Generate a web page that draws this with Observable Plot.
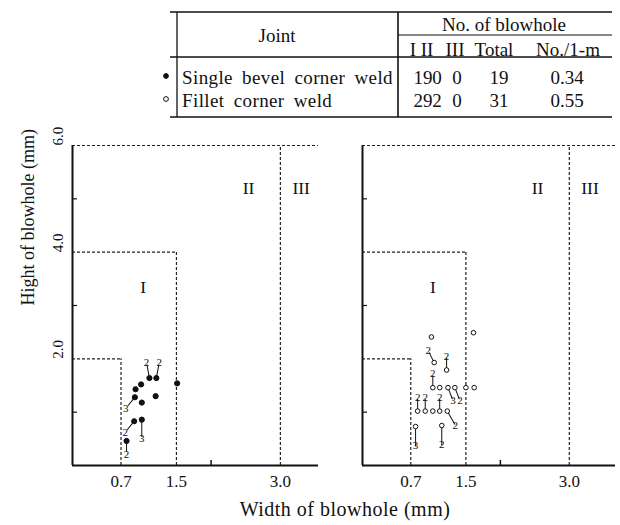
<!DOCTYPE html>
<html><head><meta charset="utf-8">
<script src="https://cdn.jsdelivr.net/npm/d3@7"></script>
<script src="https://cdn.jsdelivr.net/npm/@observablehq/plot@0.6"></script>
<style>
body{margin:0;background:#fff;}
#root{position:relative;width:620px;height:525px;font-family:"Liberation Serif",serif;color:#111;overflow:hidden;}
#root svg{position:absolute;overflow:visible;}
#xtitle{position:absolute;left:0;width:690px;top:498px;text-align:center;font-size:20px;letter-spacing:0.5px;}
</style></head><body><div id="root"><div id="xtitle">Width of blowhole (mm)</div></div>
<script>
// ---------- table data ----------
const jointNames = ["Single bevel corner weld", "Fillet corner weld"];
const jointMarker = ["filled", "open"];
const tableTitle = "No. of blowhole";
const subHeads = ["I", "II", "III", "Total", "No./1-m"];
const countI = [19, 29];
const countII = [0, 2];
const countIII = [0, 0];
const countTotal = [19, 31];
const perMeter = ["0.34", "0.55"];

// ---------- chart scaffolding ----------
const regionNames = ["I", "II", "III"];
const widthLimits = [0.7, 1.5, 3.0];
const heightLimits = [2.0, 4.0, 6.0];
const xTickValues = [0.7, 1.5, 3.0];
const yTickValues = [2.0, 4.0, 6.0];
const xMinorTicks = [2.0];
const yMinorTicks = [1.0, 3.0, 5.0];
const regionLabelW = [1.02, 2.54, 3.3];
const regionLabelH = [3.34, 5.2, 5.2];

// ---------- single bevel corner weld (filled) ----------
const bevelW = [0.78, 0.89, 1.00, 0.90, 1.00, 0.91, 0.99, 1.11, 1.21, 1.20, 1.51];
const bevelH = [0.46, 0.83, 0.86, 1.28, 1.18, 1.43, 1.52, 1.64, 1.64, 1.30, 1.54];
const bevelN = [2, 2, 3, 3, 1, 1, 1, 2, 2, 1, 1];
const bevelSide = ["S", "SW", "SS", "SW", null, null, null, "NNW", "NNE", null, null];

// ---------- fillet corner weld (open) ----------
const filletW = [1.00, 1.04, 1.22, 1.61, 1.02, 1.12, 1.24, 1.34, 1.50, 1.62, 0.80, 0.91, 1.02, 1.12, 1.23, 0.77, 1.15];
const filletH = [2.41, 1.93, 1.79, 2.49, 1.46, 1.46, 1.46, 1.46, 1.46, 1.46, 1.02, 1.02, 1.02, 1.02, 1.02, 0.73, 0.75];
const filletN = [1, 2, 2, 1, 2, 1, 3, 2, 1, 1, 2, 2, 1, 2, 2, 3, 2];
const filletSide = [null, "NW", "N", null, "N", null, "SE", "SE", null, null, "N", "N", null, "N", "SSE", "SS", "SS"];

// label offset directions (pixels)
const sideOffset = {
  N: [0, -14], NNW: [-3, -16], NNE: [3, -16], NW: [-6, -12],
  S: [0, 14], SS: [0, 19], SW: [-9, 11], SE: [5, 13], SSE: [8, 14]
};

const root = document.getElementById("root");
const FONT = "Liberation Serif";
const INK = "#111";

// ---------- table ----------
(function drawTable() {
  const svg = d3.select(root).append("svg")
    .attr("width", 620).attr("height", 125)
    .style("left", "0px").style("top", "0px")
    .attr("font-family", FONT).attr("fill", INK);
  const L = 170, R = 612, mid = 398, top = 12, hdr = 57, bot = 117;
  const line = (x1, y1, x2, y2, w = 1.3) => svg.append("line")
    .attr("x1", x1).attr("y1", y1).attr("x2", x2).attr("y2", y2)
    .attr("stroke", INK).attr("stroke-width", w);
  line(L, top, R, top);
  line(L, hdr, R, hdr);
  line(mid, 35, R, 35, 1);
  line(L, bot, R, bot);
  line(177, top, 177, bot);
  line(mid, top, mid, bot, 1.6);
  const txt = (s, x, y, anchor = "middle", size = 19) => svg.append("text")
    .attr("x", x).attr("y", y).attr("text-anchor", anchor)
    .attr("dominant-baseline", "central").attr("font-size", size).text(s);
  txt("Joint", 277, 35);
  txt(tableTitle, 504, 24);
  const headX = [413, 427, 455, 494, 568];
  subHeads.forEach((s, i) => txt(s, headX[i], 49));
  const rowY = [77, 100];
  const colX = [423, 437, 457, 499, 567];
  jointNames.forEach((name, i) => {
    txt(name, 182, rowY[i], "start").attr("letter-spacing", 0.4).attr("word-spacing", 4);
    [countI[i], countII[i], countIII[i], countTotal[i], perMeter[i]].forEach((v, j) => txt(String(v), colX[j], rowY[i]));
    svg.append("circle").attr("cx", 166).attr("cy", rowY[i] - 1).attr("r", 2.4)
      .attr("fill", jointMarker[i] === "filled" ? INK : "#fff")
      .attr("stroke", INK).attr("stroke-width", 1);
  });
})();

// ---------- panels ----------
const leader = {
  draw(ctx, l) { ctx.moveTo(0, -2.4); ctx.lineTo(0, -l); }
};

function panel({W, H, N, side, filled, xMax, width, marginLeft, marginRight, left, yLabels}) {
  const height = 375, marginTop = 20, marginBottom = 35;
  const frameW = width - marginLeft - marginRight;
  const frameH = height - marginTop - marginBottom;
  const pts = W.map((w, i) => ({w, h: H[i], n: N[i], side: side[i]}));
  const labeled = pts.filter(d => d.side).map(d => {
    const [dx, dy] = sideOffset[d.side];
    return {...d, len: Math.hypot(dx, dy) - 6, ang: Math.atan2(dx, -dy) * 180 / Math.PI};
  });
  const boxes = widthLimits.map((w, i) => ({w, h: heightLimits[i], xEnd: i === widthLimits.length - 1 ? xMax : w}));
  const dash = {stroke: "#222", strokeWidth: 1.2, strokeDasharray: "3,2"};
  const marks = [
    Plot.ruleY(boxes, {y: "h", x1: () => 0, x2: "xEnd", ...dash}),
    Plot.ruleX(boxes, {x: "w", y1: () => 0, y2: "h", ...dash}),
    Plot.ruleX([0], {y1: 0, y2: heightLimits[heightLimits.length - 1], stroke: INK, strokeWidth: 2}),
    Plot.ruleY([0], {stroke: INK, strokeWidth: 2}),
    Plot.tickY(yMinorTicks, {y: d => d, insetRight: frameW - 5, stroke: INK, strokeWidth: 1.2}),
    Plot.tickX(xMinorTicks, {x: d => d, insetTop: frameH - 5, stroke: INK, strokeWidth: 1.5}),
    Plot.text(xTickValues, {x: d => d, frameAnchor: "bottom", dy: 21, text: d => d.toFixed(1), fontSize: 17, fill: INK}),
    Plot.text(regionNames, {x: (d, i) => regionLabelW[i], y: (d, i) => regionLabelH[i], text: d => d, fontSize: 17.5, fill: INK}),
    Plot.vector(labeled, {x: "w", y: "h", length: "len", rotate: "ang", anchor: "start", shape: leader, stroke: INK, strokeWidth: 1})
  ];
  for (const key of Object.keys(sideOffset)) {
    const sub = labeled.filter(d => d.side === key);
    if (!sub.length) continue;
    marks.push(Plot.text(sub, {x: "w", y: "h", text: d => String(d.n), dx: sideOffset[key][0], dy: sideOffset[key][1], fontSize: 11, fill: INK}));
  }
  marks.push(Plot.dot(pts, {x: "w", y: "h", r: filled ? 2.6 : 2.3, fill: filled ? INK : "#fff", stroke: INK, strokeWidth: 1}));
  if (yLabels) {
    marks.push(Plot.text(yTickValues, {y: d => d, frameAnchor: "left", dx: -14, rotate: -90, text: d => d.toFixed(1), fontSize: 15, fill: INK}));
    marks.push(Plot.text(["Hight of blowhole (mm)"], {frameAnchor: "left", dx: -44, rotate: -90, text: d => d, fontSize: 18, fill: INK}));
  }
  const chart = Plot.plot({
    width, height, marginLeft, marginRight, marginTop, marginBottom,
    x: {domain: [0, xMax], axis: null},
    y: {domain: [0, heightLimits[heightLimits.length - 1]], axis: null},
    style: {fontFamily: FONT, background: "transparent", color: INK, overflow: "visible"},
    marks
  });
  chart.style.left = left + "px";
  chart.style.top = "125px";
  root.appendChild(chart);
}

panel({W: bevelW, H: bevelH, N: bevelN, side: bevelSide, filled: true, xMax: 3.55,
  width: 330, marginLeft: 72, marginRight: 12, left: 0, yLabels: true});
panel({W: filletW, H: filletH, N: filletN, side: filletSide, filled: false, xMax: 3.67,
  width: 300, marginLeft: 42, marginRight: 5, left: 320, yLabels: false});
</script>
</body></html>
